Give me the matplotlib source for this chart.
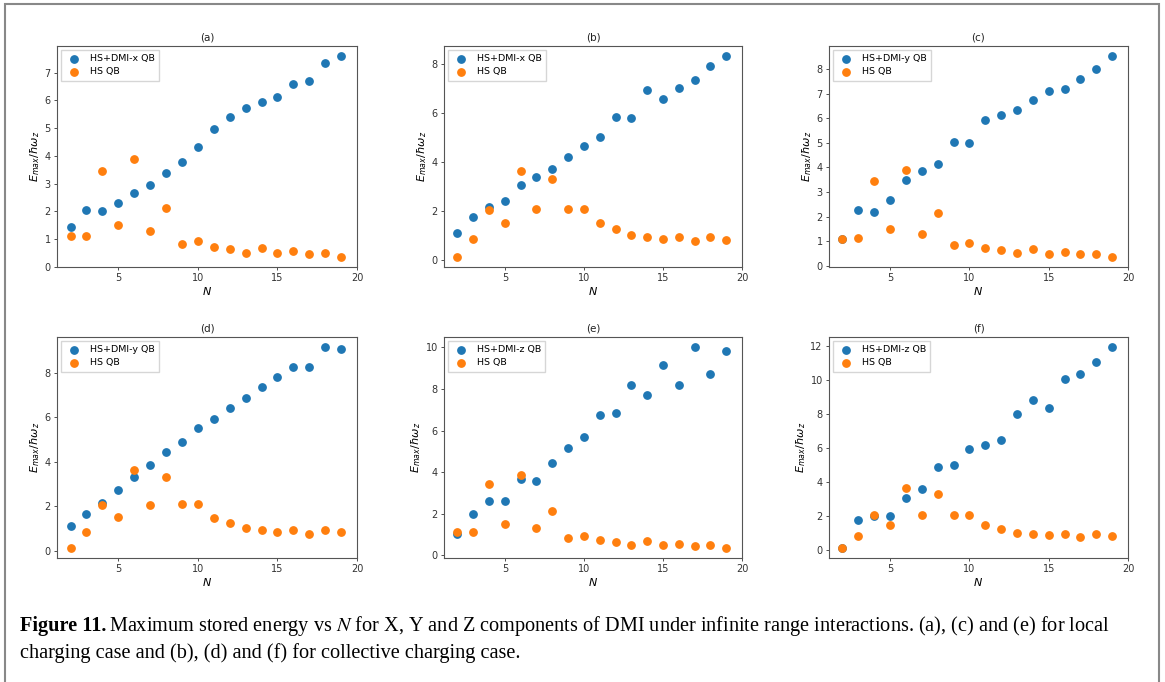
import matplotlib
matplotlib.use("Agg")
from matplotlib import pyplot as plt
from matplotlib.patches import Rectangle

# N values
N = list(range(2, 20))

# HS QB baselines (local charging and collective charging)
hs_local = [1.11, 1.13, 3.45, 1.51, 3.89, 1.30, 2.14, 0.83, 0.94, 0.73,
            0.64, 0.51, 0.70, 0.49, 0.57, 0.46, 0.49, 0.36]
hs_collective = [0.12, 0.84, 2.04, 1.50, 3.64, 2.07, 3.31, 2.08, 2.08, 1.49,
                 1.26, 1.01, 0.92, 0.86, 0.93, 0.77, 0.92, 0.82]

# HS+DMI QB series
dmi_x_local = [1.45, 2.04, 2.01, 2.29, 2.67, 2.94, 3.37, 3.79, 4.32, 4.96,
               5.39, 5.71, 5.93, 6.11, 6.58, 6.70, 7.36, 7.60]
dmi_x_collective = [1.11, 1.77, 2.16, 2.41, 3.04, 3.38, 3.72, 4.19, 4.66, 5.00,
                    5.82, 5.80, 6.93, 6.55, 7.00, 7.36, 7.91, 8.32]
dmi_y_local = [1.10, 2.28, 2.20, 2.69, 3.47, 3.86, 4.15, 5.03, 4.99, 5.93,
               6.14, 6.32, 6.75, 7.11, 7.19, 7.61, 8.02, 8.53]
dmi_y_collective = [1.11, 1.65, 2.14, 2.75, 3.31, 3.86, 4.44, 4.89, 5.51, 5.91,
                    6.43, 6.87, 7.37, 7.80, 8.28, 8.25, 9.17, 9.09]
dmi_z_local = [1.02, 1.98, 2.62, 2.62, 3.67, 3.59, 4.44, 5.16, 5.68, 6.75,
               6.86, 8.21, 7.71, 9.14, 8.21, 10.02, 8.73, 9.83]
dmi_z_collective = [0.12, 1.75, 2.00, 1.98, 3.09, 3.62, 4.86, 4.98, 5.94, 6.19,
                    6.50, 7.98, 8.81, 8.39, 10.08, 10.39, 11.07, 11.95]

panels = [
    ("(a)", "HS+DMI-x QB", dmi_x_local, hs_local),
    ("(b)", "HS+DMI-x QB", dmi_x_collective, hs_collective),
    ("(c)", "HS+DMI-y QB", dmi_y_local, hs_local),
    ("(d)", "HS+DMI-y QB", dmi_y_collective, hs_collective),
    ("(e)", "HS+DMI-z QB", dmi_z_local, hs_local),
    ("(f)", "HS+DMI-z QB", dmi_z_collective, hs_collective),
]

W, H = 1165, 682
fig = plt.figure(figsize=(W / 100, H / 100), dpi=100)

# axes boxes in pixels: left, right, top, bottom
col_px = [(57, 357), (444, 742), (829, 1128)]
row_px = [(46, 267), (337, 558)]

for i, (title, label, dmi, hs) in enumerate(panels):
    r, c = divmod(i, 3)
    x0, x1 = col_px[c]
    t, b = row_px[r]
    ax = fig.add_axes([x0 / W, 1 - b / H, (x1 - x0) / W, (b - t) / H])
    ax.scatter(N, dmi, s=28, color="#1f77b4", label=label, zorder=2)
    ax.scatter(N, hs, s=28, color="#ff7f0e", label="HS QB", zorder=3)
    ax.set_xlim(1.15, 20)
    ax.set_xticks([5, 10, 15, 20])
    ax.set_title(title, fontsize=7.5, pad=4, color="#222222")
    ax.set_xlabel("$N$", fontsize=8, labelpad=1)
    ax.set_ylabel(r"$E_{max}/\hbar\omega_z$", fontsize=8, labelpad=2)
    ax.tick_params(axis="both", labelsize=7, length=2.5, width=0.6, pad=2,
                   colors="#333333")
    for sp in ax.spines.values():
        sp.set_color("#555555")
        sp.set_linewidth(0.8)
    ax.legend(loc="upper left", fontsize=6.8, handletextpad=0.6,
              borderpad=0.45, labelspacing=0.45, framealpha=0.8,
              edgecolor="#cccccc", fancybox=False, borderaxespad=0.4)

# outer frame
fig.patches.append(Rectangle((5 / W, -0.01), 1154 / W, 1 - 4 / H + 0.01,
                             transform=fig.transFigure, fill=False,
                             edgecolor="#888888", linewidth=1.5))

# caption
cap_size = 14.6
bold = fig.text(20 / W, 1 - 626 / H, "Figure 11.", fontsize=cap_size,
                family="Liberation Serif", weight="bold", va="center")
fig.canvas.draw()
bb = bold.get_window_extent(fig.canvas.get_renderer())
fig.text(bb.x1 / W + 3 / W, 1 - 626 / H,
         "Maximum stored energy vs $N$ for X, Y and Z components of DMI under "
         "infinite range interactions. (a), (c) and (e) for local",
         fontsize=cap_size, family="Liberation Serif", va="center",
         math_fontfamily="stix")
fig.text(20 / W, 1 - 653 / H,
         "charging case and (b), (d) and (f) for collective charging case.",
         fontsize=cap_size, family="Liberation Serif", va="center")

fig.savefig("out.png", dpi=100)
